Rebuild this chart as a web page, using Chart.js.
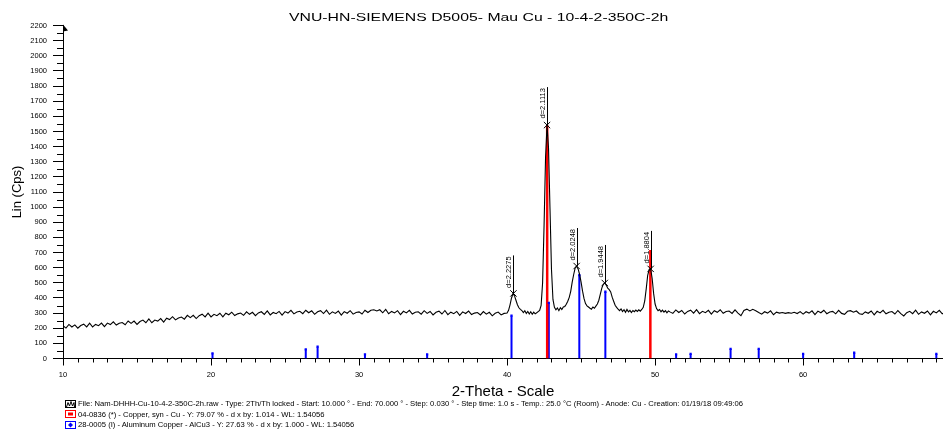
<!DOCTYPE html>
<html>
<head>
<meta charset="utf-8">
<title>VNU-HN-SIEMENS D5005 - Mau Cu</title>
<script src="https://cdn.jsdelivr.net/npm/chart.js@4.4.1/dist/chart.umd.min.js"></script>
<style>
  body { margin: 0; background: #fff; }
  #wrap { position: relative; width: 943px; height: 432px; font-family: "Liberation Sans", Arial, sans-serif; color: #000; }
  #chartTitle { position: absolute; left: 289px; top: 8.7px; font-size: 15.8px; line-height: 16px; white-space: nowrap; transform: scaleY(0.72); transform-origin: left center; }
  #legend { position: absolute; left: 65px; top: 399px; font-size: 7.65px; line-height: 10.5px; white-space: nowrap; }
  #legend svg { vertical-align: middle; margin-right: 2px; }
</style>
</head>
<body>
<div id="wrap">
  <canvas id="xrdChart" width="943" height="432"></canvas>
  <div id="chartTitle"></div>
  <div id="legend"></div>
</div>
<script>
// Title / legend text
const CHART_TITLE = 'VNU-HN-SIEMENS D5005- Mau Cu - 10-4-2-350C-2h';
const legendLines = [
  'File: Nam-DHHH-Cu-10-4-2-350C-2h.raw - Type: 2Th/Th locked - Start: 10.000 ° - End: 70.000 ° - Step: 0.030 ° - Step time: 1.0 s - Temp.: 25.0 °C (Room) - Anode: Cu - Creation: 01/19/18 09:49:06',
  '04-0836 (*) - Copper, syn - Cu - Y: 79.07 % - d x by: 1.014 - WL: 1.54056',
  '28-0005 (I) - Aluminum Copper - AlCu3 - Y: 27.63 % - d x by: 1.000 - WL: 1.54056'
];

// Measured scan (2-Theta, Lin counts)
const scanTheta = [
  10.0, 10.2, 10.4, 10.6, 10.8, 11.0, 11.2, 11.4, 11.6, 11.8,
  12.0, 12.2, 12.4, 12.6, 12.8, 13.0, 13.2, 13.4, 13.6, 13.8,
  14.0, 14.2, 14.4, 14.6, 14.8, 15.0, 15.2, 15.4, 15.6, 15.8,
  16.0, 16.2, 16.4, 16.6, 16.8, 17.0, 17.2, 17.4, 17.6, 17.8,
  18.0, 18.2, 18.4, 18.6, 18.8, 19.0, 19.2, 19.4, 19.6, 19.8,
  20.0, 20.2, 20.4, 20.6, 20.8, 21.0, 21.2, 21.4, 21.6, 21.8,
  22.0, 22.2, 22.4, 22.6, 22.8, 23.0, 23.2, 23.4, 23.6, 23.8,
  24.0, 24.2, 24.4, 24.6, 24.8, 25.0, 25.2, 25.4, 25.6, 25.8,
  26.0, 26.2, 26.4, 26.6, 26.8, 27.0, 27.2, 27.4, 27.6, 27.8,
  28.0, 28.2, 28.4, 28.6, 28.8, 29.0, 29.2, 29.4, 29.6, 29.8,
  30.0, 30.2, 30.4, 30.6, 30.8, 31.0, 31.2, 31.4, 31.6, 31.8,
  32.0, 32.2, 32.4, 32.6, 32.8, 33.0, 33.2, 33.4, 33.6, 33.8,
  34.0, 34.2, 34.4, 34.6, 34.8, 35.0, 35.2, 35.4, 35.6, 35.8,
  36.0, 36.2, 36.4, 36.6, 36.8, 37.0, 37.2, 37.4, 37.6, 37.8,
  38.0, 38.2, 38.4, 38.6, 38.8, 39.0, 39.2, 39.4, 39.6, 39.8,
  40.0, 40.1, 40.2, 40.3, 40.4, 40.5, 40.6, 40.7, 40.8, 40.9,
  41.0, 41.1, 41.2, 41.3, 41.4, 41.5, 41.6, 41.7, 41.8, 41.9,
  42.0, 42.1, 42.2, 42.3, 42.4, 42.5, 42.6, 42.7, 42.8, 42.9,
  43.0, 43.1, 43.2, 43.3, 43.4, 43.5, 43.6, 43.7, 43.8, 43.9,
  44.0, 44.1, 44.2, 44.3, 44.4, 44.5, 44.6, 44.7, 44.8, 44.9,
  45.0, 45.1, 45.2, 45.3, 45.4, 45.5, 45.6, 45.7, 45.8, 45.9,
  46.0, 46.1, 46.2, 46.3, 46.4, 46.5, 46.6, 46.7, 46.8, 46.9,
  47.0, 47.1, 47.2, 47.3, 47.4, 47.5, 47.6, 47.7, 47.8, 47.9,
  48.0, 48.1, 48.2, 48.3, 48.4, 48.5, 48.6, 48.7, 48.8, 48.9,
  49.0, 49.1, 49.2, 49.3, 49.4, 49.5, 49.6, 49.7, 49.8, 49.9,
  50.0, 50.1, 50.2, 50.3, 50.4, 50.5, 50.6, 50.7, 50.8, 50.9,
  51.0, 51.2, 51.4, 51.6, 51.8, 52.0, 52.2, 52.4, 52.6, 52.8,
  53.0, 53.2, 53.4, 53.6, 53.8, 54.0, 54.2, 54.4, 54.6, 54.8,
  55.0, 55.2, 55.4, 55.6, 55.8, 56.0, 56.2, 56.4, 56.6, 56.8,
  57.0, 57.2, 57.4, 57.6, 57.8, 58.0, 58.2, 58.4, 58.6, 58.8,
  59.0, 59.2, 59.4, 59.6, 59.8, 60.0, 60.2, 60.4, 60.6, 60.8,
  61.0, 61.2, 61.4, 61.6, 61.8, 62.0, 62.2, 62.4, 62.6, 62.8,
  63.0, 63.2, 63.4, 63.6, 63.8, 64.0, 64.2, 64.4, 64.6, 64.8,
  65.0, 65.2, 65.4, 65.6, 65.8, 66.0, 66.2, 66.4, 66.6, 66.8,
  67.0, 67.2, 67.4, 67.6, 67.8, 68.0, 68.2, 68.4, 68.6, 68.8,
  69.0, 69.2, 69.4, 69.6
];
const scanCps = [
  216, 201, 225, 208, 222, 200, 218, 227, 209, 234,
  208, 225, 217, 234, 210, 234, 224, 242, 221, 233,
  238, 223, 248, 232, 247, 225, 244, 254, 236, 261,
  236, 254, 247, 264, 241, 266, 257, 276, 255, 268,
  274, 260, 285, 270, 285, 264, 283, 293, 275, 300,
  275, 292, 283, 299, 275, 299, 289, 306, 284, 295,
  300, 285, 308, 292, 305, 283, 301, 309, 291, 314,
  288, 304, 296, 311, 287, 310, 300, 318, 295, 307,
  312, 296, 319, 302, 315, 292, 309, 316, 297, 319,
  292, 308, 298, 313, 287, 310, 299, 316, 293, 304,
  308, 294, 319, 304, 319, 322, 314, 322, 302, 324,
  296, 311, 301, 316, 290, 312, 301, 318, 294, 305,
  309, 293, 316, 298, 311, 288, 305, 313, 294, 317,
  290, 306, 296, 311, 285, 308, 297, 313, 290, 300,
  304, 288, 310, 293, 305, 282, 299, 307, 288, 298,
  300, 318, 355, 400, 428, 415, 385, 355, 335, 325,
  317, 303, 316, 298, 311, 294, 309, 292, 306, 295,
  302, 310, 318, 350, 500, 880, 1330, 1542, 1390, 990,
  590, 390, 338, 322, 334, 316, 336, 324, 340, 344,
  358, 378, 404, 444, 505, 555, 598, 610, 592, 555,
  505, 445, 395, 363, 348, 340, 332, 326, 340, 332,
  346, 360, 385, 425, 465, 490, 499, 485, 465, 455,
  440, 405, 378, 352, 338, 326, 316, 327, 310, 322,
  305, 324, 308, 318, 304, 317, 309, 320, 311, 322,
  313, 324, 338, 380, 460, 550, 588, 592, 530, 430,
  360, 330, 316, 324, 309, 320, 306, 316, 302, 314,
  308, 298, 321, 304, 317, 294, 311, 319, 300, 323,
  296, 312, 303, 318, 293, 316, 305, 322, 299, 310,
  314, 298, 321, 300, 283, 318, 326, 314, 325, 316,
  304, 293, 309, 300, 315, 289, 306, 300, 304, 298,
  303, 299, 305, 297, 310, 293, 309, 300, 315, 290,
  313, 302, 319, 296, 307, 311, 295, 318, 298, 292,
  312, 316, 306, 314, 296, 292, 308, 299, 314, 289,
  312, 301, 318, 295, 306, 310, 294, 317, 296, 281,
  303, 312, 296, 319, 292, 308, 299, 314, 289, 312,
  301, 318, 295, 306
];

// Reference pattern 04-0836 Copper (red sticks)
const copperTheta = [42.71, 49.68];
const copperCps = [1542, 717];

// Reference pattern 28-0005 AlCu3 (blue sticks)
const alcuTheta = [20.1, 26.4, 27.2, 30.4, 34.6, 40.3, 42.82, 44.88, 46.64, 51.42, 52.4, 55.1, 57.0, 60.0, 63.45, 69.0];
const alcuCps = [34, 61, 78, 28, 28, 283, 367, 551, 441, 28, 30, 63, 63, 30, 38, 30];

// Peak d-spacing marks
const peakTheta = [40.43, 42.7, 44.7, 46.6, 49.7];
const peakCps = [430, 1542, 611, 499, 592];
const peakLabels = ['d=2.2275', 'd=2.1113', 'd=2.0248', 'd=1.9448', 'd=1.8804'];

// Axis range
const Y_MAX = 2200;
const X_MIN = 10;
const X_MAX = 69.45;

const FONT = '"Liberation Sans", Arial, sans-serif';

function toPoints(xs, ys) {
  return xs.map((x, i) => ({ x: x, y: ys[i] }));
}

// sticks drawn as vertical segments from 0 up to the intensity, split by gaps
function stickPoints(xs, ys) {
  return xs.flatMap((x, i) => [{ x: x, y: 0 }, { x: x, y: ys[i] }, { x: x, y: null }]);
}

// Title and legend
document.getElementById('chartTitle').textContent = CHART_TITLE;

const legendIcons = [
  '<svg width="11" height="8"><rect x="0.5" y="0.5" width="10" height="7" fill="#fff" stroke="#000"/><polyline points="1.5,7 3,2.5 4.5,6 6,1.5 7.5,6 9,2.5 9.5,7" fill="none" stroke="#000"/></svg>',
  '<svg width="11" height="8"><rect x="0.5" y="0.5" width="10" height="7" fill="#fff" stroke="#ff0000"/><rect x="3" y="2.5" width="5" height="3" fill="#ff0000"/></svg>',
  '<svg width="11" height="8"><rect x="0.5" y="0.5" width="10" height="7" fill="#fff" stroke="#0000ff"/><polygon points="5.5,1.5 8,4 5.5,6.5 3,4" fill="#0000ff"/></svg>'
];
const legendBox = document.getElementById('legend');
legendLines.forEach((line, i) => {
  const row = document.createElement('div');
  row.innerHTML = legendIcons[i];
  row.appendChild(document.createTextNode(line));
  legendBox.appendChild(row);
});

// minor ticks + arrow on the y axis
const minorTicks = {
  id: 'minorTicks',
  afterDraw(chart) {
    const { ctx, chartArea, scales: { x, y } } = chart;
    ctx.save();
    ctx.strokeStyle = '#000';
    ctx.lineWidth = 1;
    ctx.beginPath();
    for (let v = 11; v < X_MAX; v++) {
      if (v % 10 === 0) continue;
      const px = Math.round(x.getPixelForValue(v)) + 0.5;
      ctx.moveTo(px, chartArea.bottom);
      ctx.lineTo(px, chartArea.bottom + 4);
    }
    for (let v = 50; v < Y_MAX; v += 100) {
      const py = Math.round(y.getPixelForValue(v)) + 0.5;
      ctx.moveTo(chartArea.left - 6, py);
      ctx.lineTo(chartArea.left, py);
    }
    ctx.stroke();

    ctx.fillStyle = '#000';
    ctx.beginPath();
    ctx.moveTo(chartArea.left, chartArea.top - 1);
    ctx.lineTo(chartArea.left + 5, chartArea.top + 5);
    ctx.lineTo(chartArea.left, chartArea.top + 6);
    ctx.closePath();
    ctx.fill();
    ctx.restore();
  }
};

// d-spacing labels standing on each marked peak
const peakLabelPlugin = {
  id: 'peakLabels',
  afterDatasetsDraw(chart) {
    const { ctx, scales: { x, y } } = chart;
    ctx.save();
    ctx.strokeStyle = '#000';
    ctx.fillStyle = '#000';
    ctx.lineWidth = 1;
    ctx.font = '7.5px ' + FONT;
    peakTheta.forEach((t, i) => {
      const px = Math.round(x.getPixelForValue(t)) + 0.5;
      const py = y.getPixelForValue(peakCps[i]);
      const topY = py - 38;
      ctx.beginPath();
      ctx.moveTo(px, py);
      ctx.lineTo(px, topY);
      ctx.stroke();
      ctx.save();
      ctx.translate(px - 1, topY + 1);
      ctx.rotate(-Math.PI / 2);
      ctx.textAlign = 'right';
      ctx.textBaseline = 'bottom';
      ctx.fillText(peakLabels[i], 0, 0);
      ctx.restore();
    });
    ctx.restore();
  }
};

new Chart(document.getElementById('xrdChart'), {
  type: 'line',
  data: {
    datasets: [
      {
        label: 'Scan',
        data: toPoints(scanTheta, scanCps),
        borderColor: '#000',
        borderWidth: 1.1,
        pointRadius: 0,
        tension: 0,
        order: 0
      },
      {
        label: 'Peaks',
        data: toPoints(peakTheta, peakCps),
        showLine: false,
        pointStyle: 'crossRot',
        pointRadius: 4.5,
        borderColor: '#000',
        borderWidth: 1,
        order: 0
      },
      {
        label: 'AlCu3 marks',
        data: toPoints(alcuTheta, alcuCps),
        showLine: false,
        pointStyle: 'rect',
        pointRadius: 1.6,
        backgroundColor: '#0000ff',
        borderColor: '#0000ff',
        borderWidth: 0,
        order: 1
      },
      {
        label: '04-0836 Cu',
        data: stickPoints(copperTheta, copperCps),
        borderColor: '#ff0000',
        borderWidth: 2.5,
        pointRadius: 0,
        spanGaps: false,
        order: 2
      },
      {
        label: '28-0005 AlCu3',
        data: stickPoints(alcuTheta, alcuCps),
        borderColor: '#0000ff',
        borderWidth: 2,
        pointRadius: 0,
        spanGaps: false,
        order: 3
      }
    ]
  },
  options: {
    responsive: false,
    animation: false,
    devicePixelRatio: 1,
    layout: {
      autoPadding: false,
      padding: { top: 25.5, right: 0, bottom: 28.5, left: 0 }
    },
    plugins: {
      legend: { display: false },
      tooltip: { enabled: false },
      title: { display: false }
    },
    scales: {
      x: {
        type: 'linear',
        min: X_MIN,
        max: X_MAX,
        offset: false,
        afterBuildTicks: (scale) => {
          scale.ticks = scale.ticks.filter(t => t.value % 10 === 0);
        },
        afterFit: (scale) => {
          scale.height = 45;
          scale.paddingLeft = 0;
          scale.paddingRight = 0;
        },
        ticks: {
          stepSize: 10,
          autoSkip: false,
          maxRotation: 0,
          padding: 4.5,
          color: '#000',
          font: { family: FONT, size: 7.5 },
          callback: (v) => String(v)
        },
        grid: { drawOnChartArea: false, tickLength: 7, color: '#000' },
        border: { display: true, color: '#000', width: 1 },
        title: {
          display: true,
          text: '2-Theta - Scale',
          color: '#000',
          font: { family: FONT, size: 15, lineHeight: 1 },
          padding: { top: 0, bottom: 4 }
        }
      },
      y: {
        min: 0,
        max: Y_MAX,
        afterFit: (scale) => { scale.width = 63; },
        ticks: {
          stepSize: 100,
          autoSkip: false,
          padding: 6,
          color: '#000',
          font: { family: FONT, size: 7.5 },
          callback: (v) => String(v)
        },
        grid: { drawOnChartArea: false, tickLength: 10, color: '#000' },
        border: { display: true, color: '#000', width: 1 },
        title: {
          display: true,
          text: 'Lin (Cps)',
          color: '#000',
          font: { family: FONT, size: 13 },
          padding: { top: 10, bottom: 0 }
        }
      }
    }
  },
  plugins: [minorTicks, peakLabelPlugin]
});
</script>
</body>
</html>
